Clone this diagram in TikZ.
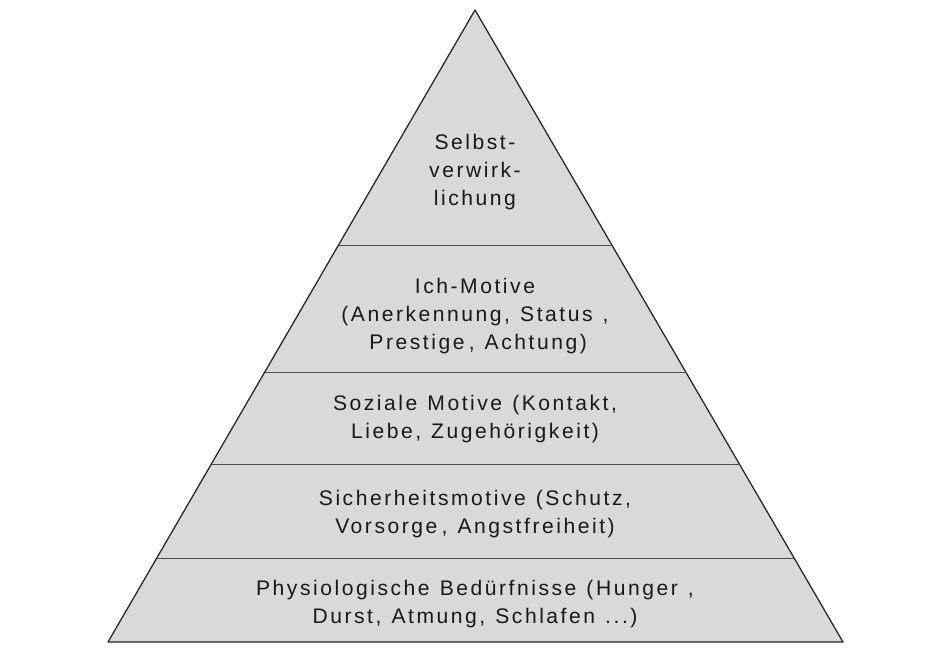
\documentclass[tikz,border=0pt]{standalone}
\usepackage{fontspec}
\setmainfont{Liberation Sans}[LetterSpace=12,WordSpace=1.2]
\usetikzlibrary{calc}

\begin{document}
\begin{tikzpicture}[x=0.025cm,y=-0.025cm,
    level/.style={align=center,font=\fontsize{15}{19.8}\selectfont,text=black!90},
    divider/.style={draw=black!70,line width=0.7pt}]
    \useasboundingbox (0,0) rectangle (943,652);
    % outline of the pyramid
    \coordinate (apex) at (475,10);
    \coordinate (bl) at (108,642);
    \coordinate (br) at (843,642);
    \filldraw[fill=black!15,draw=black!85,line width=0.9pt,line join=round] (apex) -- (bl) -- (br) -- cycle;
    % levels
    \foreach \t in {0.3734,0.5728,0.7199,0.8671}
        \draw[divider] ($(apex)!\t!(bl)$) -- ($(apex)!\t!(br)$);
    \node[level] (selbst) at (475,172) {Selbst-\\verwirk-\\lichung};
    \node[level] (ich) at (475,316) {Ich-Motive\\(Anerkennung, Status~,\\\kern0.3em Prestige\kern0.2em, Achtung)};
    \node[level] (sozial) at (475,419) {Soziale Motive (Kontakt,\\Liebe, Zugehörigkeit)};
    \node[level] (sicher) at (475,514) {Sicherheitsmotive (Schutz,\\Vorsorge\kern0.2em, Angstfreiheit)};
    \node[level] (physio) at (475,604) {Physiologische Bedürfnisse (Hunger~,\\Durst, Atmung, Schlafen ...)};
\end{tikzpicture}
\end{document}
